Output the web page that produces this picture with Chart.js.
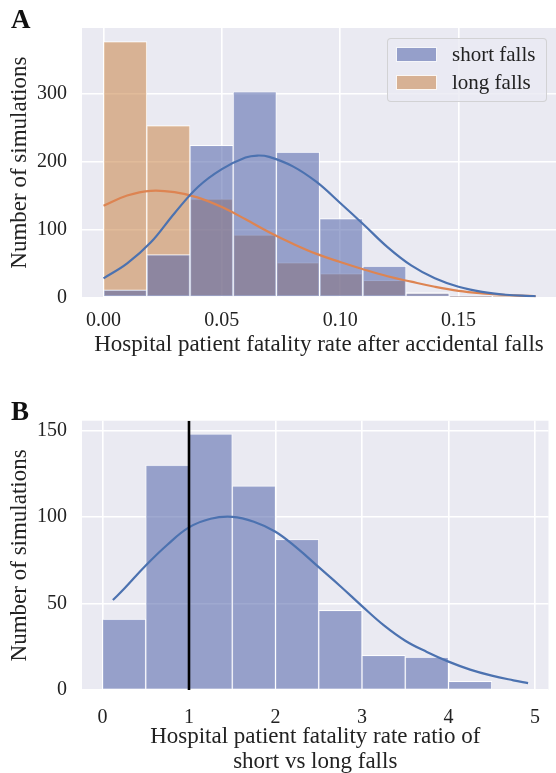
<!DOCTYPE html>
<html>
<head>
<meta charset="utf-8">
<script src="https://cdn.jsdelivr.net/npm/chart.js@4"></script>
<style>
html,body{margin:0;padding:0;background:#fff;width:556px;height:773px;overflow:hidden}
canvas{position:absolute;left:0}
#cA{top:0}
#cB{top:390px}
.panel{position:absolute;font:bold 27px/27px 'Liberation Serif',serif;color:#111}
.lgbox{position:absolute;left:387px;top:38px;width:158px;height:62px;background:rgba(234,234,242,.8);border:1px solid rgba(204,204,204,.8);border-radius:4px}
.sw{position:absolute;left:396px;width:41px;height:15px;box-sizing:border-box;border:1px solid rgba(255,255,255,.9)}
.lt{position:absolute;left:452px;font:21px/21px 'Liberation Serif',serif;color:#222;white-space:nowrap}
</style>
</head>
<body>
<canvas id="cA" width="556" height="370"></canvas>
<canvas id="cB" width="556" height="390"></canvas>

<div class="panel" style="left:11px;top:6px">A</div>
<div class="panel" style="left:11px;top:398px">B</div>

<div class="lgbox"></div>
<div class="sw" id="swShort" style="top:47px"></div>
<div class="lt" style="top:44px">short falls</div>
<div class="sw" id="swLong" style="top:75px"></div>
<div class="lt" style="top:72px">long falls</div>

<script>
// ---- panel A: fatality rate histograms ----
const edgesA   = [0, 0.0183, 0.0365, 0.0548, 0.0730, 0.0913, 0.1096, 0.1278, 0.1461, 0.1643, 0.1826];
const shortA   = [11, 63, 224, 303, 214, 116, 46, 6, 2, 0];
const longA    = [377, 253, 145, 92, 51, 35, 25, 7, 1, 1];
// kde curves, sampled by eye
const kdeShortX = [0, 0.01, 0.02, 0.03, 0.04, 0.05, 0.06, 0.065, 0.07, 0.08, 0.09, 0.10, 0.11, 0.12, 0.13, 0.14, 0.15, 0.16, 0.17, 0.18, 0.1826];
const kdeShortY = [28, 50, 81, 124, 163, 189, 206, 209, 207, 193, 170, 139, 107, 74, 47, 28, 15.5, 8, 3.8, 1.8, 1.5];
const kdeLongX  = [0, 0.01, 0.02, 0.03, 0.04, 0.05, 0.06, 0.07, 0.08, 0.09, 0.10, 0.11, 0.12, 0.13, 0.14, 0.15, 0.16, 0.17, 0.18, 0.1826];
const kdeLongY  = [135, 150, 157, 155, 147, 133, 115, 96, 79, 64, 52, 41, 31, 23, 15.5, 9.5, 5.8, 3.4, 2, 1.5];
const xTicksA = [0, 0.05, 0.10, 0.15];
const yTicksA = [0, 100, 200, 300];

// ---- panel B: ratio short/long ----
const edgesB  = [0, 0.5, 1, 1.5, 2, 2.5, 3, 3.5, 4, 4.5];
const countsB = [41, 130, 148, 118, 87, 46, 20, 19, 5];
const kdeBX = [0.12, 0.25, 0.5, 0.75, 1.0, 1.25, 1.5, 1.75, 2.0, 2.25, 2.5, 2.75, 3.0, 3.25, 3.5, 3.75, 4.0, 4.25, 4.5, 4.75, 4.92];
const kdeBY = [52, 58.5, 72, 84, 94, 99, 100.1, 97.3, 91.5, 82, 71, 60, 48.5, 37.5, 28.5, 22, 16.4, 11.8, 8.3, 5.6, 4.0];
const refLineB = 1;
const xTicksB = [0, 1, 2, 3, 4, 5];
const yTicksB = [0, 50, 100, 150];

const FONT = "'Liberation Serif', 'Times New Roman', serif";
const INK = '#222';
const BG = '#eaeaf2';
const BLUE_FILL = 'rgba(81,99,169,0.55)';
const ORANGE_FILL = 'rgba(201,132,71,0.55)';
const EDGE = 'rgba(255,255,255,0.9)';
const BLUE = '#4c72b0', ORANGE = '#dd8452';

document.getElementById('swShort').style.background = BLUE_FILL;
document.getElementById('swLong').style.background = ORANGE_FILL;

Chart.defaults.font.family = FONT;
Chart.defaults.color = INK;

const mids = e => e.slice(0, -1).map((v, i) => (v + e[i + 1]) / 2);
const pts = (xs, ys) => xs.map((x, i) => ({x, y: ys[i]}));

const panelBg = { id: 'panelBg', beforeDraw(c){
  const {ctx, chartArea: a} = c;
  ctx.save(); ctx.fillStyle = BG; ctx.fillRect(a.left, a.top, a.right - a.left, a.bottom - a.top); ctx.restore();
}};

function bars(data, fill, order){
  return {type:'bar', data, backgroundColor:fill, borderColor:EDGE, borderWidth:0.9, borderSkipped:false,
    barPercentage:1, categoryPercentage:1, grouped:false, order};
}
function curve(data, color, order, w, t){
  return {type:'line', data, borderColor:color, borderWidth:w||2.2, pointRadius:0, fill:false,
    tension: t === undefined ? 0.4 : t, order};
}

function scales(o){
  const grid = {color:'#fff', lineWidth:1.6, drawTicks:false, offset:false};
  return {
    x: {type:'linear', min:o.xMin, max:o.xMax, bounds:'data', offset:false, grid, border:{display:false},
      afterBuildTicks: s => { s.ticks = o.xTicks.map(v => ({value:v})); },
      afterFit: s => { s.height = o.xH; },
      ticks:{color:INK, font:{size:20}, padding:o.xPad, maxRotation:0, autoSkip:false, callback:o.xFmt},
      title:{display:true, text:o.xTitle, color:INK, font:{size:23, lineHeight:1.065}, padding:{top:0, bottom:o.xTitlePad}}},
    y: {type:'linear', min:0, max:o.yMax, bounds:'data', grid, border:{display:false},
      afterBuildTicks: s => { s.ticks = o.yTicks.map(v => ({value:v})); },
      afterFit: s => { s.width = 82; },
      ticks:{color:INK, font:{size:20}, padding:15, autoSkip:false, callback: v => String(v)},
      title:{display:true, text:'Number of simulations', color:INK, font:{size:23, lineHeight:1.065}, padding:{top:8, bottom:0}}}
  };
}

const common = {responsive:false, animation:false, events:[],
  plugins:{legend:{display:false}, tooltip:{enabled:false}}};

const centersA = mids(edgesA);
new Chart(document.getElementById('cA'), {
  type:'bar',
  data:{datasets:[
    curve(pts(kdeShortX, kdeShortY), BLUE, 0),
    curve(pts(kdeLongX, kdeLongY), ORANGE, 0),
    bars(pts(centersA, shortA), BLUE_FILL, 1),
    bars(pts(centersA, longA), ORANGE_FILL, 2)
  ]},
  options:Object.assign({}, common, {
    layout:{padding:{top:28, left:0, right:0, bottom:0}},
    scales:scales({xMin:-0.0091, xMax:0.1912, xTicks:xTicksA, xH:72.7, xPad:11,
      xFmt: v => v.toFixed(2), xTitle:'Hospital patient fatality rate after accidental falls', xTitlePad:13,
      yMax:397, yTicks:yTicksA})
  }),
  plugins:[panelBg]
});

new Chart(document.getElementById('cB'), {
  type:'bar',
  data:{datasets:[
    curve([{x:refLineB, y:0}, {x:refLineB, y:155.7}], '#000', -1, 2.6, 0),
    curve(pts(kdeBX, kdeBY), BLUE, 0),
    bars(pts(mids(edgesB), countsB), BLUE_FILL, 1)
  ]},
  options:Object.assign({}, common, {
    layout:{padding:{top:30.7, left:0, right:0, bottom:0}},
    scales:scales({xMin:-0.237, xMax:5.156, xTicks:xTicksB, xH:90, xPad:16,
      xFmt: v => String(v), xTitle:['Hospital patient fatality rate ratio of', 'short vs long falls'], xTitlePad:6,
      yMax:155.7, yTicks:yTicksB})
  }),
  plugins:[panelBg]
});
</script>
</body>
</html>
